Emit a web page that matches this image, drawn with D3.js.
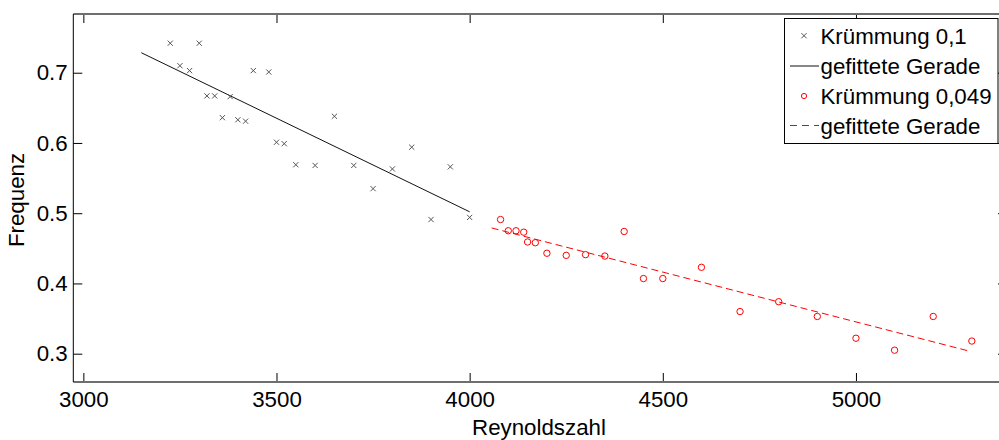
<!DOCTYPE html>
<html>
<head>
<meta charset="utf-8">
<script src="https://cdn.jsdelivr.net/npm/d3@7"></script>
<style>
  html, body { margin: 0; padding: 0; background: #fff; }
  svg { display: block; font-family: "Liberation Sans", Arial, Helvetica, sans-serif; }
</style>
</head>
<body>
<svg id="chart" width="999" height="440"></svg>
<script>
// ---- data ----
const reA = [3225, 3250, 3275, 3300, 3320, 3340, 3360, 3380, 3400, 3420, 3440, 3480,
             3500, 3520, 3550, 3600, 3650, 3700, 3750, 3800, 3850, 3900, 3950, 4000];
const freqA = [0.742, 0.710, 0.703, 0.742, 0.667, 0.667, 0.636, 0.666, 0.633, 0.631, 0.703, 0.701,
               0.601, 0.599, 0.569, 0.568, 0.638, 0.568, 0.535, 0.563, 0.594, 0.491, 0.566, 0.494];
const fitA_x = [3150, 4000];
const fitA_y = [0.7285, 0.502];

const reB = [4080, 4100, 4120, 4140, 4150, 4170, 4200, 4250, 4300, 4350, 4400, 4450,
             4500, 4600, 4700, 4800, 4900, 5000, 5100, 5200, 5300];
const freqB = [0.491, 0.475, 0.475, 0.473, 0.459, 0.458, 0.443, 0.440, 0.441, 0.439, 0.474, 0.407,
               0.407, 0.423, 0.360, 0.374, 0.353, 0.322, 0.305, 0.353, 0.318];
const fitB_x = [4057, 5291];
const fitB_y = [0.479, 0.304];

const xTicks = [3000, 3500, 4000, 4500, 5000];
const yTicks = [0.3, 0.4, 0.5, 0.6, 0.7];
const legendLabels = ["Krümmung 0,1", "gefittete Gerade", "Krümmung 0,049", "gefittete Gerade"];
const xLabel = "Reynoldszahl";
const yLabel = "Frequenz";

// ---- layout ----
const L = 73.3, R = 1007, T = 14, B = 382;
const FS = 22.3;
const svg = d3.select("#chart");

const x = d3.scaleLinear().domain([2974, 5391]).range([L, R]);
const y = d3.scaleLinear().domain([0.2597, 0.7836]).range([B, T]);

// axes
const gB = svg.append("g").attr("transform", `translate(0,${B})`)
  .call(d3.axisBottom(x).tickValues(xTicks).tickSize(-9).tickPadding(9).tickFormat(d3.format("d")));
const gL = svg.append("g").attr("transform", `translate(${L},0)`)
  .call(d3.axisLeft(y).tickValues(yTicks).tickSize(-9).tickPadding(5.6).tickFormat(d3.format(".1f")));
const gT = svg.append("g").attr("transform", `translate(0,${T})`)
  .call(d3.axisTop(x).tickValues(xTicks).tickSize(-9).tickFormat(""));
const gR = svg.append("g").attr("transform", `translate(${R},0)`)
  .call(d3.axisRight(y).tickValues(yTicks).tickSize(-9).tickFormat(""));
[gB, gL, gT, gR].forEach(g => {
  g.select(".domain").remove();
  g.selectAll(".tick line").attr("stroke", "#000").attr("stroke-width", 1);
  g.selectAll(".tick text").attr("font-size", FS).attr("fill", "#000")
    .attr("font-family", "Liberation Sans, Arial, sans-serif");
});

// box
svg.append("line").attr("x1", L).attr("x2", R).attr("y1", T).attr("y2", T)
  .attr("stroke", "#6e6e6e").attr("stroke-width", 2);
svg.append("line").attr("x1", L).attr("x2", R).attr("y1", B).attr("y2", B)
  .attr("stroke", "#6e6e6e").attr("stroke-width", 2);
svg.append("line").attr("x1", L).attr("x2", L).attr("y1", T).attr("y2", B)
  .attr("stroke", "#000").attr("stroke-width", 1);
svg.append("line").attr("x1", R).attr("x2", R).attr("y1", T).attr("y2", B)
  .attr("stroke", "#000").attr("stroke-width", 1);

// axis labels
svg.append("text").attr("x", 539).attr("y", 435).attr("text-anchor", "middle")
  .attr("font-size", FS).text(xLabel);
svg.append("text").attr("transform", "translate(24,200) rotate(-90)").attr("text-anchor", "middle")
  .attr("font-size", FS).text(yLabel);

const line = d3.line().x(d => x(d[0])).y(d => y(d[1]));

// fitted lines
svg.append("path").datum(fitA_x.map((v, i) => [v, fitA_y[i]]))
  .attr("d", line).attr("fill", "none").attr("stroke", "#111").attr("stroke-width", 1);
svg.append("path").datum(fitB_x.map((v, i) => [v, fitB_y[i]]))
  .attr("d", line).attr("fill", "none").attr("stroke", "#f00").attr("stroke-width", 1)
  .attr("stroke-dasharray", "7,4");

// markers
const xm = 2.6;
function cross(g, cx, cy) {
  g.append("path").attr("d", `M${cx - xm},${cy - xm}L${cx + xm},${cy + xm}M${cx - xm},${cy + xm}L${cx + xm},${cy - xm}`)
    .attr("stroke", "#555").attr("stroke-width", 1).attr("fill", "none");
}
const gA = svg.append("g");
reA.forEach((v, i) => cross(gA, x(v), y(freqA[i])));

svg.append("g").selectAll("circle").data(reB.map((v, i) => [v, freqB[i]])).join("circle")
  .attr("cx", d => x(d[0])).attr("cy", d => y(d[1])).attr("r", 3.2)
  .attr("fill", "none").attr("stroke", "#f00").attr("stroke-width", 1);

// legend
const lg = svg.append("g");
lg.append("rect").attr("x", 784.5).attr("y", 18.5).attr("width", 213.5).attr("height", 125)
  .attr("fill", "#fff").attr("stroke", "#000").attr("stroke-width", 1);
const rowY = [35.7, 66, 96, 125.5];
const baseY = [43.5, 73.5, 103.5, 133.5];
cross(lg, 804, rowY[0]);
lg.append("line").attr("x1", 790).attr("x2", 819).attr("y1", rowY[1]).attr("y2", rowY[1])
  .attr("stroke", "#111").attr("stroke-width", 1);
lg.append("circle").attr("cx", 804).attr("cy", rowY[2]).attr("r", 2.6)
  .attr("fill", "none").attr("stroke", "#f00").attr("stroke-width", 1);
lg.append("line").attr("x1", 790).attr("x2", 819).attr("y1", rowY[3]).attr("y2", rowY[3])
  .attr("stroke", "#f00").attr("stroke-width", 1).attr("stroke-dasharray", "7,5");
legendLabels.forEach((t, i) => {
  lg.append("text").attr("x", 820.5).attr("y", baseY[i]).attr("font-size", FS).text(t);
});
</script>
</body>
</html>
